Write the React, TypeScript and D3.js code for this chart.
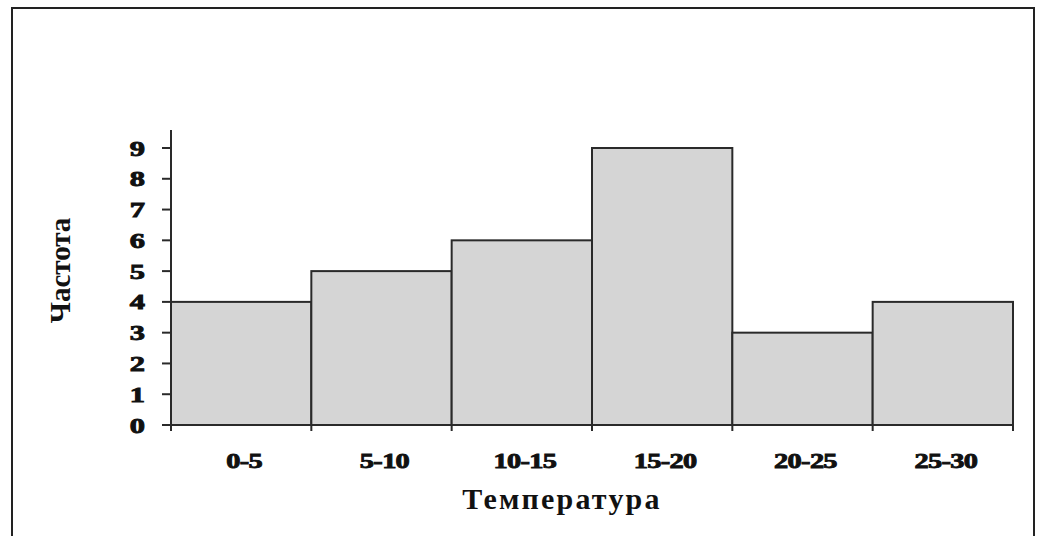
import * as d3 from 'd3';

const binLabels = ['0-5', '5-10', '10-15', '15-20', '20-25', '25-30'];
const frequencies = [4, 5, 6, 9, 3, 4];
const yTicks = [0, 1, 2, 3, 4, 5, 6, 7, 8, 9];

const W = 1037;
const H = 536;
const margin = { left: 171, right: 24, top: 148, bottom: 111 };

export default function App() {
  const innerW = W - margin.left - margin.right;
  const innerH = H - margin.top - margin.bottom;

  const x = d3.scaleBand<string>().domain(binLabels).range([0, innerW]).padding(0);
  const y = d3.scaleLinear().domain([0, 9]).range([innerH, 0]);

  const font = '"Liberation Serif", "Times New Roman", serif';
  // the reference numerals look heavy and stretched sideways
  const heavy = { fontFamily: font, fontWeight: 'bold' as const, fill: '#111', stroke: '#111', strokeWidth: 0.9 };

  return (
    <div style={{ position: 'absolute', left: 0, top: 0 }}>
      <svg width={W} height={H} style={{ display: 'block', background: '#fff' }}>
        <rect x={12} y={8} width={1022} height={534} fill="none" stroke="#222" strokeWidth={2} />
        <g transform={`translate(${margin.left},${margin.top})`}>
          {binLabels.map((b, i) => (
            <rect
              key={b}
              x={x(b)}
              y={y(frequencies[i])}
              width={x.bandwidth()}
              height={innerH - y(frequencies[i])}
              fill="#d5d5d5"
              stroke="#2a2a2a"
              strokeWidth={2}
            />
          ))}
          {/* y axis */}
          <line x1={0} x2={0} y1={-18} y2={innerH + 6} stroke="#2a2a2a" strokeWidth={2} />
          {yTicks.map((t) => (
            <g key={t} transform={`translate(0,${y(t)})`}>
              <line x1={-9} x2={0} stroke="#2a2a2a" strokeWidth={2} />
              <text
                transform="translate(-26,0) scale(1.45,1)"
                dy="0.36em"
                textAnchor="end"
                fontSize={21}
                {...heavy}
              >
                {t}
              </text>
            </g>
          ))}
          {/* x axis */}
          <line x1={0} x2={innerW} y1={innerH} y2={innerH} stroke="#2a2a2a" strokeWidth={2} />
          {binLabels.map((b) => (
            <line
              key={'t' + b}
              x1={(x(b) ?? 0) + x.bandwidth()}
              x2={(x(b) ?? 0) + x.bandwidth()}
              y1={innerH}
              y2={innerH + 6}
              stroke="#2a2a2a"
              strokeWidth={2}
            />
          ))}
          {binLabels.map((b) => (
            <text
              key={'l' + b}
              transform={`translate(${(x(b) ?? 0) + x.bandwidth() / 2 + 3},${innerH + 43}) scale(1.35,1)`}
              textAnchor="middle"
              fontSize={21}
              letterSpacing={-0.5}
              {...heavy}
            >
              {b}
            </text>
          ))}
          <text
            x={innerW / 2 - 30}
            y={innerH + 84}
            textAnchor="middle"
            fontFamily={font}
            fontWeight="bold"
            fontSize={30}
            letterSpacing={2.2}
            fill="#111"
          >
            Температура
          </text>
          <text
            transform={`translate(${-101},${innerH / 2 - 16}) rotate(-90)`}
            textAnchor="middle"
            fontFamily={font}
            fontWeight="bold"
            fontSize={29}
            fill="#111"
          >
            Частота
          </text>
        </g>
      </svg>
    </div>
  );
}
